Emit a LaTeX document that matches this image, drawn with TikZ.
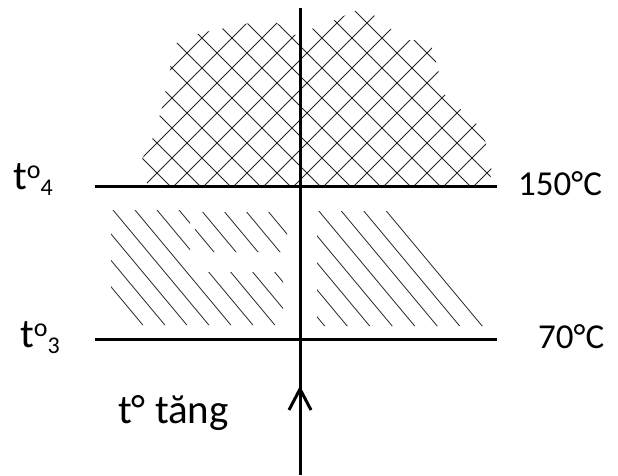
\documentclass[tikz,border=0pt]{standalone}
\usepackage{fontspec}
\setmainfont{Carlito}
\usetikzlibrary{positioning}

% raised "o" and lowered index, as in t^o_4
\newcommand{\tlevel}[1]{t\raisebox{11pt}{\fontsize{26}{26}\selectfont o}\raisebox{-6pt}{\fontsize{24}{24}\selectfont #1}}

\begin{document}
\begin{tikzpicture}[
    x=1pt, y=-1pt,
    axisLine/.style={line width=3pt, draw=black},
    hatchLine/.style={line width=0.8pt, draw=black!85},
    levelLabel/.style={font=\fontsize{41}{44}\selectfont, anchor=base west, inner sep=0pt},
    tempLabel/.style={font=\fontsize{35}{38}\selectfont, anchor=base west, inner sep=0pt}
]
    \useasboundingbox (0,0) rectangle (618,475);

    % Cross-hatched zone above 150 C
    \begin{scope}
        \clip (148,186) -- (140,163) -- (152,140) -- (162,108) -- (170,70) -- (172,45)
            -- (200,33) -- (255,22) -- (272,20) -- (295,35) -- (330,22) -- (362,8)
            -- (385,22) -- (400,40) -- (430,40) -- (445,95) -- (480,127) -- (492,160)
            -- (490,186) -- cycle;
        \foreach \c in {120,150,...,720}
            \draw[hatchLine] (\c-200,200) -- (\c,0);
        \foreach \c in {-76,-46,...,520}
            \draw[hatchLine] (\c,0) -- (\c+200,200);
    \end{scope}

    % Single hatching between 70 C and 150 C (left)
    \begin{scope}
        \clip (111,210) rectangle (190,325)
              (195,212) rectangle (287,252)
              (186,272) rectangle (283,325);
        \foreach \c in {-128,-106,...,120}
            \draw[hatchLine] (\c+175,210) -- (\c+275,330);
    \end{scope}

    % Single hatching between 70 C and 150 C (right)
    \begin{scope}
        \clip (317,211) -- (408,211) -- (488,318) -- (488,326) -- (317,326) -- cycle;
        \foreach \c in {53,75.5,...,240}
            \draw[hatchLine] (\c+175,210) -- (\c+275,330);
    \end{scope}

    % Temperature levels
    \coordinate (lvl4W) at (95,186);
    \coordinate (lvl4E) at (497,186);
    \coordinate (lvl3W) at (95,339);
    \coordinate (lvl3E) at (497,339);
    \draw[axisLine] (lvl4W) -- (lvl4E);
    \draw[axisLine] (lvl3W) -- (lvl3E);

    % Vertical axis with arrow
    \coordinate (axBot) at (300,475);
    \coordinate (axTop) at (300,8);
    \coordinate (tip) at (300,389);
    \coordinate (tipL) at (289,410);
    \coordinate (tipR) at (311,410);
    \draw[axisLine] (axBot) -- (axTop);
    \draw[axisLine, line join=miter] (tipL) -- (tip) -- (tipR);

    % Labels
    \node[levelLabel] (t4) at (13,189) {\tlevel{4}};
    \node[levelLabel] (t3) at (20,347) {\tlevel{3}};
    \node[tempLabel] (c150) at (518,195) {150°C};
    \node[tempLabel] (c70) at (538,348) {70°C};
    \node[levelLabel] (rise) at (118,423) {t° tăng};

\end{tikzpicture}
\end{document}
